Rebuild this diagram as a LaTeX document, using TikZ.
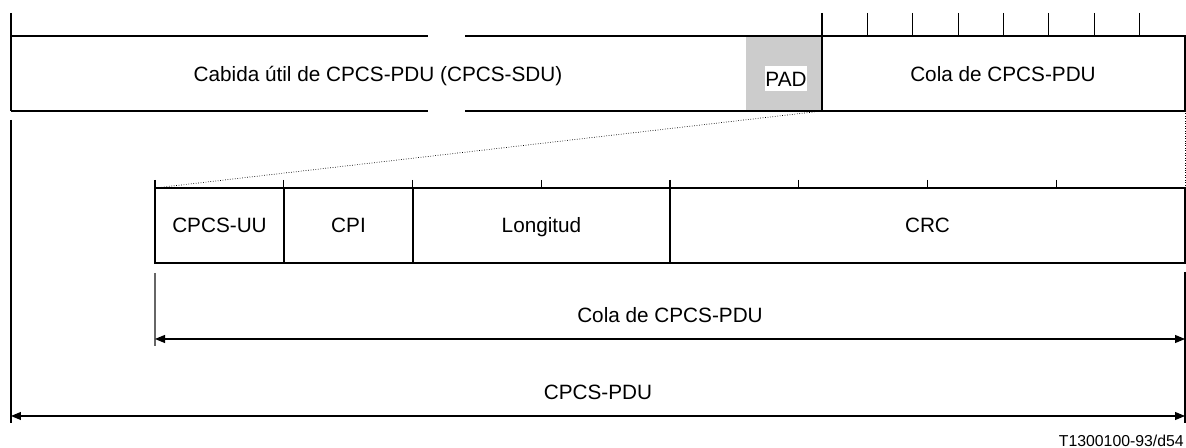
\documentclass[tikz,border=0pt]{standalone}
\usepackage{fontspec}
\setmainfont{Liberation Sans}
\usetikzlibrary{arrows.meta}

\begin{document}
\begin{tikzpicture}[x=0.02cm,y=-0.02cm,>={Triangle[length=0.2cm,width=0.16cm]},line width=0.6pt,
    every node/.style={font=\fontsize{11.8}{14}\selectfont,text height=8.6pt,text depth=0pt},
    extline/.style={black!60}]
    \useasboundingbox (0,0) rectangle (1186,448);
    % CPCS-PDU
    \fill[black!20] (746,36) rectangle (822,111);
    \draw (11,13) -- (11,111);
    \draw (11,36) -- (428,36) (465,36) -- (1185,36) -- (1185,111);
    \draw (11,111) -- (428,111) (465,111) -- (1185,111);
    \draw (822,13) -- (822,111);
    \foreach \i in {1,...,7}
        \draw (822+45.375*\i,13) -- (822+45.375*\i,36);
    \node (sdu) at (378,74) {Cabida útil de CPCS-PDU (CPCS-SDU)};
    \node[fill=white,inner xsep=0.5pt,inner ysep=3pt] (pad) at (786,78.5) {PAD};
    \node (cola) at (1003,74) {Cola de CPCS-PDU};
    \coordinate (padse) at (822,111);
    \coordinate (pduse) at (1185,111);
    % cola de CPCS-PDU
    \draw (155,188) rectangle (1185,263);
    \foreach \x in {284,413,670}
        \draw (\x,188) -- (\x,263);
    \foreach \i in {0,...,7}
        \draw (155+128.75*\i,180) -- (155+128.75*\i,188);
    \coordinate (colanw) at (155,188);
    \coordinate (colane) at (1185,188);
    \draw[densely dotted,thin] (padse) -- (colanw);
    \draw[densely dotted,thin] (pduse) -- (colane);
    \node (uu) at (219.5,225) {CPCS-UU};
    \node (cpi) at (348.5,225) {CPI};
    \node (lon) at (541.5,225) {Longitud};
    \node (crc) at (927.5,225) {CRC};
    % longitudes
    \draw[extline] (155,273) -- (155,346);
    \draw (11,120) -- (11,423);
    \draw (1185,272) -- (1185,423);
    \coordinate (al) at (155,339);
    \coordinate (ar) at (1185,339);
    \coordinate (bl) at (11,416);
    \coordinate (br) at (1185,416);
    \draw[<->] (al) -- (ar) node[midway,above=6pt] (lcola) {Cola de CPCS-PDU};
    \draw[<->] (bl) -- (br) node[midway,above=6pt] (lpdu) {CPCS-PDU};
    \node[anchor=east,font=\fontsize{9}{11}\selectfont,text height=6.5pt,inner sep=1pt] (ref) at (1186,441) {T1300100-93/d54};
\end{tikzpicture}
\end{document}
